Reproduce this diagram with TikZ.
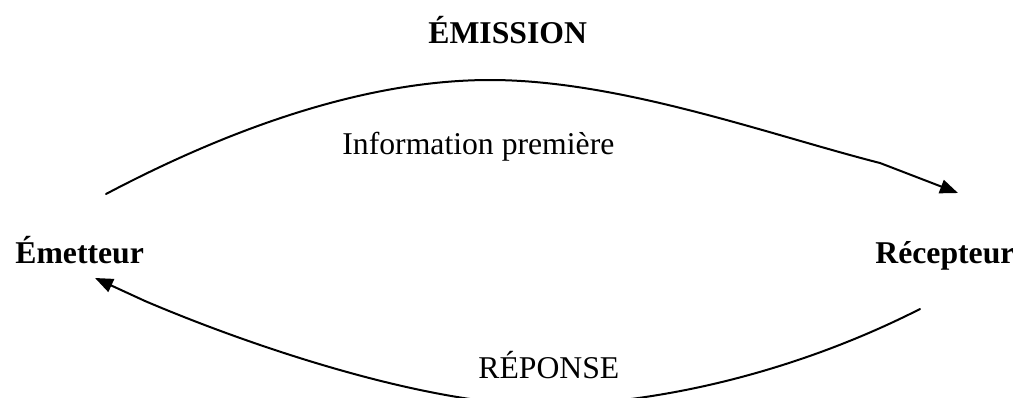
\documentclass[tikz,border=0pt]{standalone}
\usepackage{fontspec}
\setmainfont{Liberation Serif}
\usetikzlibrary{arrows.meta}
\begin{document}
\begin{tikzpicture}[x=0.5pt,y=-0.5pt,
  lbl/.style={inner sep=0pt,anchor=base west,font=\fontsize{15.85}{19}\selectfont},
  blbl/.style={lbl,font=\fontsize{15.85}{19}\selectfont\bfseries},
  flow/.style={line width=1pt,line cap=round,line join=round},
  tip/.style={-{Triangle[length=9pt,width=7pt]}}]
  % canvas
  \useasboundingbox (0,0) rectangle (1013,397);
  \clip (0,0) rectangle (1013,397);

  % labels
  \node[blbl] (emission) at (428,43) {ÉMISSION};
  \node[blbl] (emetteur) at (15,263) {Émetteur};
  \node[blbl] (recepteur) at (875,263) {Récepteur};
  \node[lbl] (info) at (342,154) {Information première};
  \node[lbl] (reponse) at (478,378) {RÉPONSE};

  % end points of the two exchanges
  \coordinate (sendStart) at (106,194);
  \coordinate (sendTop) at (490,80);
  \coordinate (sendKink) at (880,163);
  \coordinate (sendTip) at (958,193);
  \coordinate (backStart) at (920,309);
  \coordinate (backLow) at (543,405);
  \coordinate (backKink) at (145,301);
  \coordinate (backTip) at (95,278);

  % emission: sender to receiver
  \draw[flow] (sendStart) .. controls (250,118) and (380,80) .. (sendTop)
    .. controls (620,80) and (770,135) .. (sendKink);
  \draw[flow,tip] (sendKink) -- (sendTip);

  % response: receiver back to sender
  \draw[flow] (backStart) .. controls (790,375) and (650,405) .. (backLow)
    .. controls (430,405) and (260,350) .. (backKink);
  \draw[flow,tip] (backKink) -- (backTip);
\end{tikzpicture}
\end{document}
